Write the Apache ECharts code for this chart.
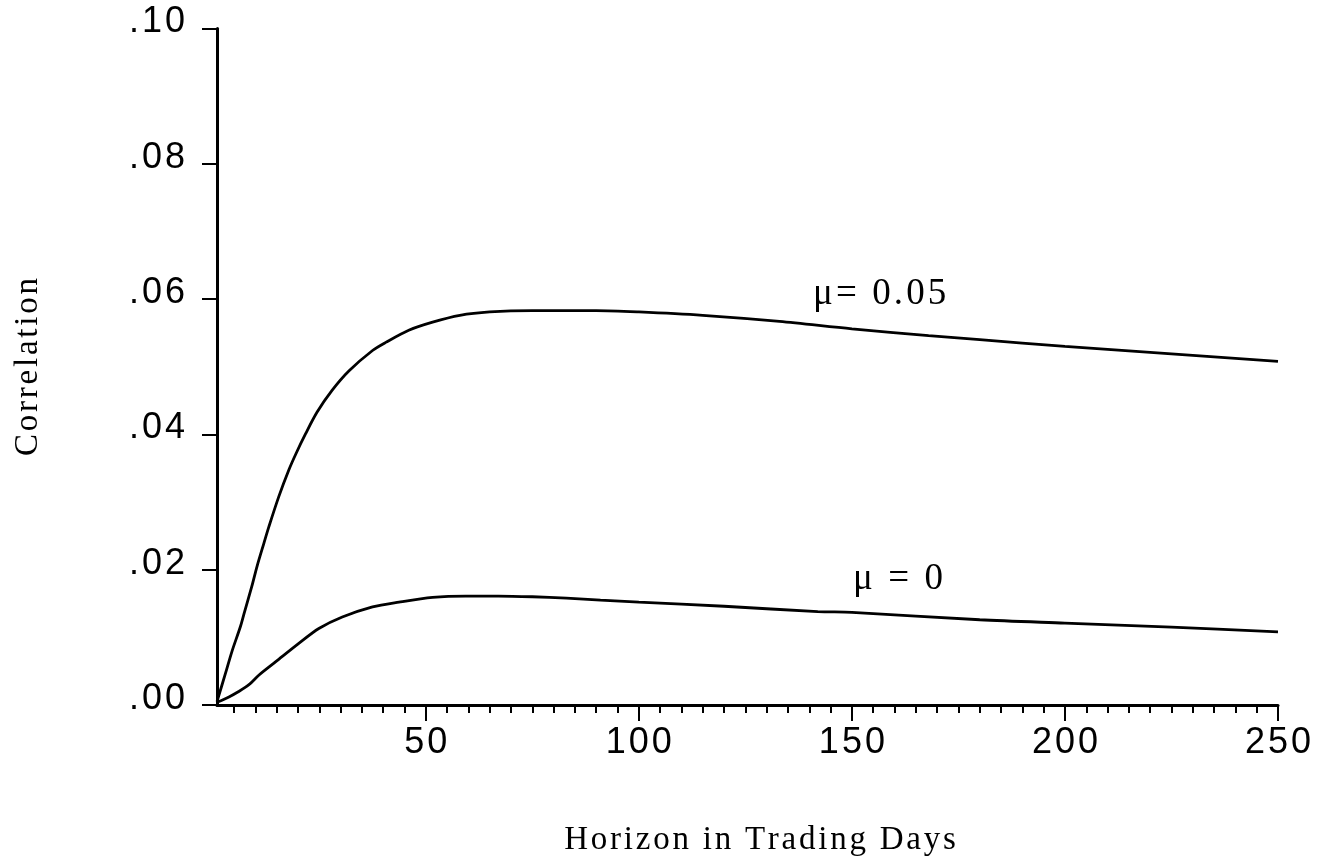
<!DOCTYPE html>
<html>
<head>
<meta charset="utf-8">
<script src="https://cdn.jsdelivr.net/npm/echarts@6/dist/echarts.min.js"></script>
<style>
html,body{margin:0;padding:0;background:#fff;}
#chart{width:1325px;height:865px;}
</style>
</head>
<body>
<div id="chart"></div>
<script>
// ---- data ----
const upperX = [1, 3, 4.5, 6.5, 7.3, 9.2, 10.4, 12, 13.2, 15.5, 17.9, 19.5, 21.8, 24.5, 28, 32, 37.5, 40.6, 46, 51.6, 58, 65, 75, 90, 100, 115, 133, 150, 168, 180, 200, 225, 250];
const upperY = [0.0005, 0.0047, 0.0079, 0.0116, 0.0134, 0.0176, 0.0205, 0.0239, 0.0264, 0.0308, 0.0348, 0.0371, 0.0401, 0.0433, 0.0465, 0.0494, 0.0524, 0.0536, 0.0554, 0.0566, 0.0576, 0.0581, 0.0583, 0.0583, 0.0581, 0.0576, 0.0567, 0.0556, 0.0546, 0.0540, 0.0530, 0.0519, 0.0508];
const lowerX = [1, 3.8, 6.1, 8.5, 10.8, 14.8, 20.2, 24.9, 30.4, 37.5, 43.7, 51.6, 59.4, 67, 75, 83, 91, 100, 120, 142, 150, 180, 200, 225, 250];
const lowerY = [0.0004, 0.0012, 0.0020, 0.0030, 0.0044, 0.0064, 0.0091, 0.0113, 0.0130, 0.0145, 0.0152, 0.0159, 0.0161, 0.0161, 0.0160, 0.0158, 0.0155, 0.0152, 0.0146, 0.0138, 0.0137, 0.0126, 0.0121, 0.0115, 0.0108];
const xLabelValues = [50, 100, 150, 200, 250];
const xMinorTicks = [5,10,15,20,25,30,35,40,45,50,55,60,65,70,75,80,85,90,95,100,105,110,115,120,125,130,135,140,145,150,155,160,165,170,175,180,185,190,195,200,205,210,215,220,225,230,235,240,245,250];
const xMajorTicks = [50, 100, 150, 200, 250];
const upperLabel = 'μ= 0.05';
const lowerLabel = 'μ = 0';
const xTitle = 'Horizon in Trading Days';
const yTitle = 'Correlation';

// ---- helpers ----
const HS = '\u200A';
function sp(s){ return s.split('').join(HS); }
function pairs(xs, ys){ return xs.map((x,i)=>[x, ys[i]]); }

const chart = echarts.init(document.getElementById('chart'), null, {renderer:'canvas'});
const sans = '"Liberation Sans", Arial, sans-serif';
const serif = '"Liberation Serif", "Times New Roman", serif';

chart.setOption({
  animation: false,
  backgroundColor: '#fff',
  grid: {left: 217, right: 47, top: 28.5, bottom: 160, containLabel: false},
  xAxis: [{
    type: 'value', min: 1, max: 250,
    splitLine: {show: false},
    axisLine: {show: true, onZero: false, lineStyle: {color: '#000', width: 3}},
    axisTick: {show: true, customValues: xMinorTicks, length: 8, lineStyle: {color: '#000', width: 2}},
    axisLabel: {show: true, customValues: xLabelValues, margin: 20, color: '#000', fontSize: 36, fontFamily: sans,
      formatter: v => sp(String(v))}
  },{
    type: 'value', min: 1, max: 250, position: 'bottom',
    splitLine: {show: false},
    axisLine: {show: false},
    axisTick: {show: true, customValues: xMajorTicks, length: 16, lineStyle: {color: '#000', width: 2}},
    axisLabel: {show: false}
  }],
  yAxis: {
    type: 'value', min: 0, max: 0.1, interval: 0.02,
    splitLine: {show: false},
    axisLine: {show: true, onZero: false, lineStyle: {color: '#000', width: 3}},
    axisTick: {show: true, inside: false, length: 15, lineStyle: {color: '#000', width: 2}},
    axisLabel: {show: true, margin: 32, color: '#000', fontSize: 36, fontFamily: sans,
      verticalAlign: 'bottom', lineHeight: 12,
      formatter: v => sp(v.toFixed(2).replace(/^0/, ''))}
  },
  series: [{
    type: 'line', name: upperLabel, xAxisIndex: 0, data: pairs(upperX, upperY),
    showSymbol: false, smooth: 0.3, lineStyle: {color: '#000', width: 2.8}
  },{
    type: 'line', name: lowerLabel, xAxisIndex: 0, data: pairs(lowerX, lowerY),
    showSymbol: false, smooth: 0.3, lineStyle: {color: '#000', width: 2.8}
  }],
  graphic: [
    {type: 'text', left: 813, top: 276, style: {text: sp(upperLabel), font: '37px ' + serif, fill: '#000'}},
    {type: 'text', left: 853, top: 561, style: {text: sp(lowerLabel), font: '37px ' + serif, fill: '#000'}},
    {type: 'text', x: 760, y: 840, style: {text: sp(xTitle), font: '33px ' + serif, fill: '#000', align: 'center', verticalAlign: 'middle'}},
    {type: 'text', x: 28, y: 367, rotation: Math.PI/2, style: {text: sp(yTitle), font: '33px ' + serif, fill: '#000', align: 'center', verticalAlign: 'middle'}}
  ]
});
</script>
</body>
</html>
